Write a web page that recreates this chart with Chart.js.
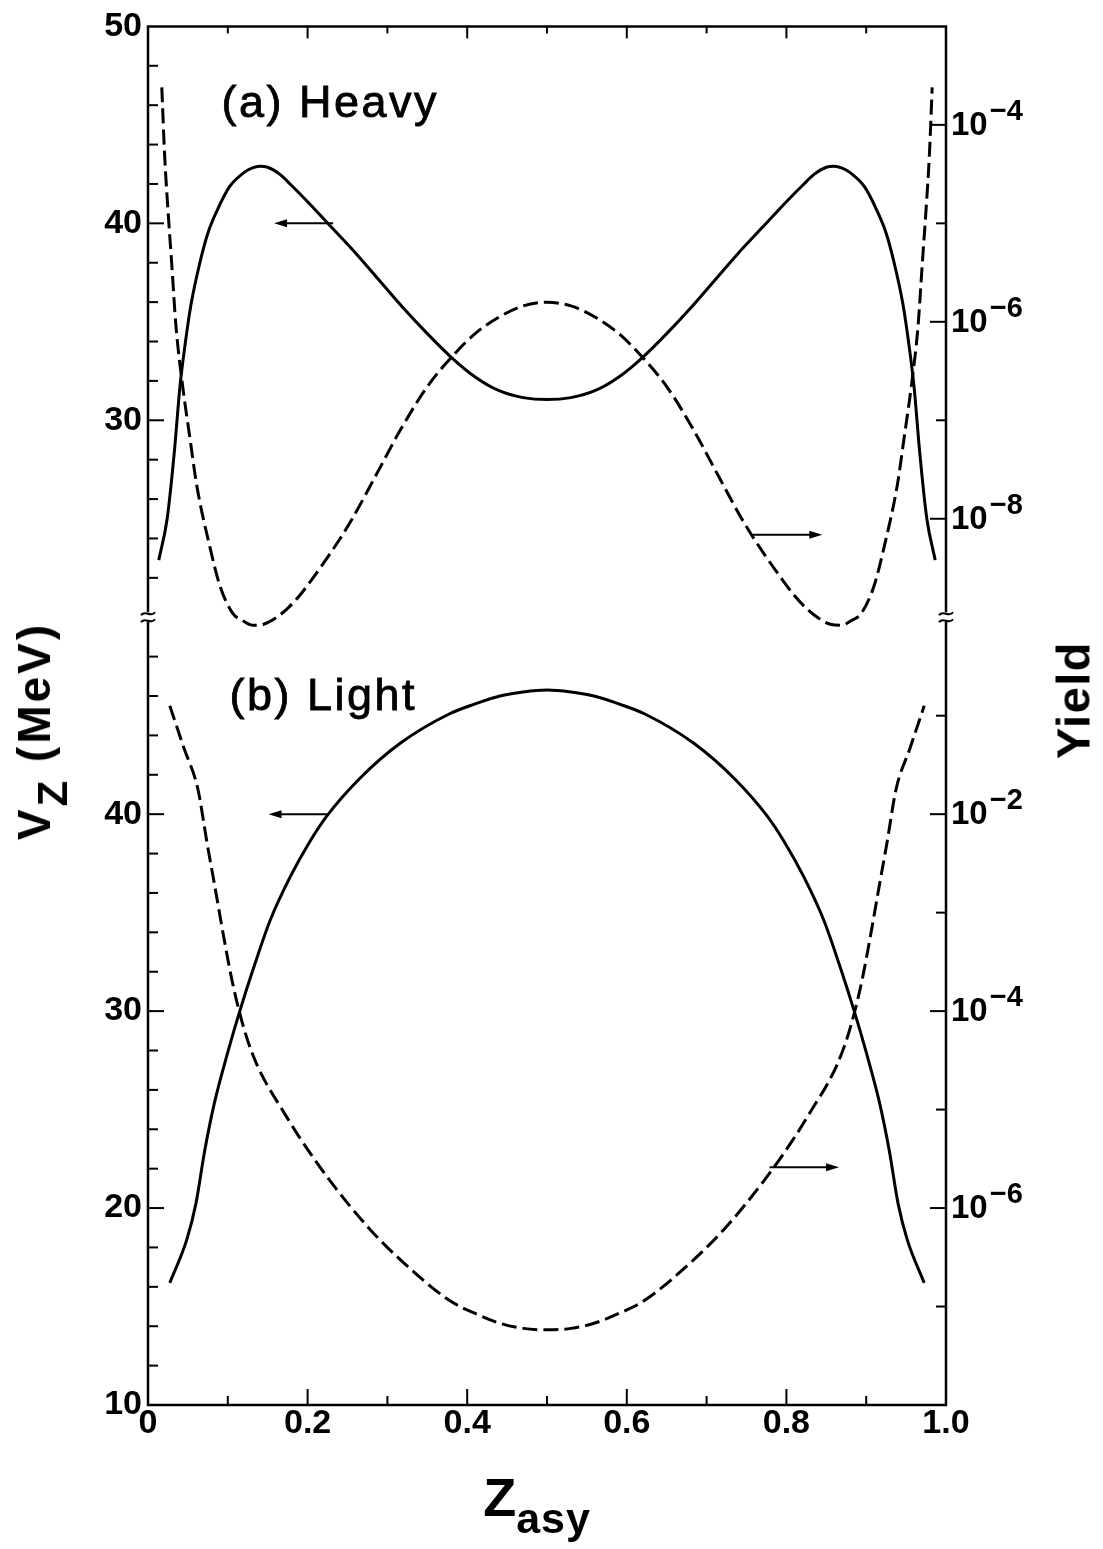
<!DOCTYPE html>
<html><head><meta charset="utf-8">
<script src="https://cdn.jsdelivr.net/npm/chart.js@4.4.1/dist/chart.umd.min.js"></script>
<style>
html,body{margin:0;padding:0;background:#fff;}
#wrap{position:relative;width:1103px;height:1549px;overflow:hidden;}
#c{position:absolute;left:0;top:0;}
.t{position:absolute;font-family:"Liberation Sans",Arial,sans-serif;color:#000;white-space:nowrap;line-height:1;}
</style></head><body>
<div id="wrap">
<canvas id="c" width="1103" height="1549"></canvas>
<div class="t" id="ylab" style="left:34px;top:731px;font-size:46px;font-weight:bold;letter-spacing:3px;transform:translate(-50%,-50%) rotate(-90deg);">V<span style="font-size:42px;position:relative;top:17px;">Z</span> (MeV)</div>
<div class="t" id="y2lab" style="left:1073px;top:700px;font-size:47px;font-weight:bold;letter-spacing:1.5px;transform:translate(-50%,-50%) rotate(-90deg);">Yield</div>
<div class="t" id="xlab" style="left:537px;top:1497px;font-size:54px;font-weight:bold;transform:translate(-50%,-50%);">Z<span style="font-size:43px;position:relative;top:17px;letter-spacing:1px;">asy</span></div>
</div>
<script>
// ---------------- data ----------------
// (a) Heavy : V_Z (MeV) vs Z_asy
const heavyVzX = [0.0135,0.024,0.033,0.040,0.047,0.054,0.065,0.075,0.086,0.102,0.121,0.130,0.140,0.150,0.165,0.178,0.200,0.230,0.260,0.290,0.320,0.350,0.380,0.410,0.440,0.470,0.500,
                  0.530,0.560,0.590,0.620,0.650,0.680,0.710,0.740,0.770,0.800,0.822,0.835,0.850,0.860,0.870,0.879,0.898,0.914,0.925,0.935,0.946,0.953,0.960,0.967,0.976,0.9865];
const heavyVzY = [22.9,25.0,28.4,31.7,34.0,35.9,38.0,39.5,40.6,41.85,42.6,42.8,42.9,42.85,42.5,42.0,41.1,39.8,38.5,37.1,35.7,34.4,33.2,32.2,31.5,31.15,31.05,
                  31.15,31.5,32.2,33.2,34.4,35.7,37.1,38.5,39.8,41.1,42.0,42.5,42.85,42.9,42.8,42.6,41.85,40.6,39.5,38.0,35.9,34.0,31.7,28.4,25.0,22.9];
// (a) Heavy : yield vs Z_asy
const heavyYieldX = [0.0173,0.0209,0.0247,0.030,0.035,0.0435,0.0522,0.061,0.077,0.090,0.106,0.118,0.131,0.145,0.160,0.175,0.190,0.205,0.228,0.253,0.285,0.316,0.350,0.385,0.410,0.440,0.470,0.500,
                     0.530,0.560,0.590,0.615,0.650,0.684,0.715,0.747,0.772,0.795,0.810,0.825,0.840,0.855,0.869,0.882,0.894,0.910,0.923,0.939,0.9478,0.9565,0.965,0.970,0.9753,0.9791,0.9827];
const heavyYieldY = [2.4e-4,4.8e-5,1.5e-5,3.6e-6,9.1e-7,2.2e-7,6.9e-8,2.2e-8,5.4e-9,2.1e-9,1.1e-9,9.3e-10,8.3e-10,8.5e-10,9.8e-10,1.23e-9,1.66e-9,2.4e-9,4.4e-9,9.1e-9,2.7e-8,7.9e-8,2.2e-7,4.8e-7,7.6e-7,1.12e-6,1.45e-6,1.58e-6,
                     1.45e-6,1.12e-6,7.6e-7,4.8e-7,2.2e-7,7.9e-8,2.7e-8,9.1e-9,4.4e-9,2.4e-9,1.66e-9,1.23e-9,9.8e-10,8.5e-10,8.3e-10,9.3e-10,1.1e-9,2.1e-9,5.4e-9,2.2e-8,6.9e-8,2.2e-7,9.1e-7,3.6e-6,1.5e-5,4.8e-5,2.4e-4];
// (b) Light : V_Z (MeV) vs Z_asy
const lightVzX = [0.0273,0.0486,0.0599,0.0710,0.0836,0.0999,0.115,0.134,0.153,0.178,0.2027,0.224,0.265,0.316,0.378,0.410,0.441,0.470,0.500,
                  0.530,0.559,0.590,0.622,0.684,0.735,0.776,0.7973,0.822,0.847,0.866,0.885,0.9001,0.9164,0.929,0.9401,0.9514,0.9727];
const lightVzY = [16.2,18.4,20.2,22.9,25.4,27.9,30.0,32.4,34.6,36.8,38.6,39.9,41.8,43.6,45.1,45.6,46.0,46.2,46.3,
                  46.2,46.0,45.6,45.1,43.6,41.8,39.9,38.6,36.8,34.6,32.4,30.0,27.9,25.4,22.9,20.2,18.4,16.2];
// (b) Light : yield vs Z_asy
const lightYieldX = [0.0273,0.045,0.0625,0.074,0.084,0.095,0.105,0.115,0.125,0.137,0.150,0.165,0.190,0.228,0.278,0.316,0.378,0.410,0.440,0.470,0.500,
                     0.530,0.560,0.590,0.622,0.684,0.722,0.772,0.810,0.835,0.850,0.863,0.875,0.885,0.895,0.905,0.916,0.926,0.9375,0.955,0.9727];
const lightYieldY = [1.26e-1,4.7e-2,1.8e-2,5.1e-3,1.8e-3,5.6e-4,2.1e-4,9.5e-5,5.0e-5,2.8e-5,1.74e-5,1.1e-5,5.2e-6,1.9e-6,6.1e-7,3.0e-7,1.15e-7,8.5e-8,6.8e-8,6.0e-8,5.8e-8,
                     6.0e-8,6.8e-8,8.5e-8,1.15e-7,3.0e-7,6.1e-7,1.9e-6,5.2e-6,1.1e-5,1.74e-5,2.8e-5,5.0e-5,9.5e-5,2.1e-4,5.6e-4,1.8e-3,5.1e-3,1.8e-2,4.7e-2,1.26e-1];

// ticks
const xTickVals = [0,0.2,0.4,0.6,0.8,1.0];
const xTickLabels = ['0','0.2','0.4','0.6','0.8','1.0'];
const leftTopTicks = [30,40,50];
const leftBottomTicks = [10,20,30,40];
const rightTopExps = [-4,-6,-8];
const rightBottomExps = [-2,-4,-6];

const panelLabels = [
  {text:'(a) Heavy', x:0.092, y:45.4, axis:'yTL'},
  {text:'(b) Light', x:0.102, y:45.3, axis:'yBL'}
];
// arrows: [x from, x to, y value, axis]
const arrows = [
  {x0:0.232, x1:0.158, y:40,     axis:'yTL'},
  {x0:0.758, x1:0.845, y:6.9e-9, axis:'yTR'},
  {x0:0.224, x1:0.151, y:40,     axis:'yBL'},
  {x0:0.779, x1:0.866, y:2.6e-6, axis:'yBR'}
];

const pts = (xs, ys) => xs.map((x,i)=>({x:x, y:ys[i]}));
const FONT = '"Liberation Sans", Arial, sans-serif';

const decor = {
  id:'decor',
  afterDraw(chart){
    const ctx = chart.ctx, ca = chart.chartArea, s = chart.scales;
    const L = ca.left, R = ca.right, T = ca.top, B = ca.bottom;
    const brk = s.yTL.bottom;
    ctx.save();
    ctx.strokeStyle = '#000'; ctx.fillStyle = '#000';
    // frame
    ctx.lineWidth = 2.5;
    ctx.beginPath();
    ctx.moveTo(L,T); ctx.lineTo(R,T); ctx.lineTo(R,B); ctx.lineTo(L,B); ctx.closePath();
    ctx.stroke();
    // ticks
    ctx.lineWidth = 2;
    const hline = (x, y, len) => { ctx.beginPath(); ctx.moveTo(x,y); ctx.lineTo(x+len,y); ctx.stroke(); };
    const vline = (x, y, len) => { ctx.beginPath(); ctx.moveTo(x,y); ctx.lineTo(x,y+len); ctx.stroke(); };
    for (let v = 22; v < 50; v += 2) hline(L, s.yTL.getPixelForValue(v), v % 10 === 0 ? 16 : 10);
    for (let v = 12; v < 50; v += 2) hline(L, s.yBL.getPixelForValue(v), v % 10 === 0 ? 16 : 10);
    for (let e = -8; e <= -4; e++) hline(R, s.yTR.getPixelForValue(Math.pow(10,e)), e % 2 === 0 ? -16 : -10);
    for (let e = -7; e <= -1; e++) hline(R, s.yBR.getPixelForValue(Math.pow(10,e)), e % 2 === 0 ? -16 : -10);
    for (let k = 1; k < 10; k++) {
      const x = s.x.getPixelForValue(k/10);
      const major = k % 2 === 0;
      vline(x, B, major ? -16 : -9);
      vline(x, T, major ? 12 : 7);
    }
    // right tick labels 10^n
    ctx.textBaseline = 'middle'; ctx.textAlign = 'left';
    const expLabel = (scale, e) => {
      const y = scale.getPixelForValue(Math.pow(10,e));
      ctx.font = 'bold 33px ' + FONT;
      ctx.fillText('10', R + 5, y + 1);
      const w = ctx.measureText('10').width;
      ctx.font = 'bold 29px ' + FONT;
      ctx.fillText('\u2212' + Math.abs(e), R + 7 + w, y - 13);
    };
    rightTopExps.forEach(e => expLabel(s.yTR, e));
    rightBottomExps.forEach(e => expLabel(s.yBR, e));
    // break marks
    const brkMark = (x) => {
      ctx.fillStyle = '#fff';
      ctx.fillRect(x - 3, brk - 5, 6, 9);
      ctx.lineWidth = 2;
      for (const dy of [-4, 3]) {
        ctx.beginPath();
        ctx.moveTo(x - 7, brk + dy + 2);
        ctx.bezierCurveTo(x - 3, brk + dy - 4, x + 3, brk + dy + 5, x + 7, brk + dy - 1);
        ctx.stroke();
      }
      ctx.fillStyle = '#000';
    };
    brkMark(L); brkMark(R);
    // arrows
    ctx.lineWidth = 2;
    arrows.forEach(a => {
      const sc = s[a.axis];
      const x0 = s.x.getPixelForValue(a.x0), x1 = s.x.getPixelForValue(a.x1), y = sc.getPixelForValue(a.y);
      const dir = Math.sign(x1 - x0);
      ctx.beginPath(); ctx.moveTo(x0, y); ctx.lineTo(x1 - dir*10, y); ctx.stroke();
      ctx.beginPath(); ctx.moveTo(x1, y); ctx.lineTo(x1 - dir*13, y - 4); ctx.lineTo(x1 - dir*13, y + 4); ctx.closePath(); ctx.fill();
    });
    // panel labels
    ctx.textBaseline = 'alphabetic'; ctx.textAlign = 'left';
    ctx.font = '45px ' + FONT;
    if ('letterSpacing' in ctx) ctx.letterSpacing = '2.5px';
    ctx.lineWidth = 0.8;
    panelLabels.forEach(p => {
      const px = s.x.getPixelForValue(p.x), py = s[p.axis].getPixelForValue(p.y);
      ctx.fillText(p.text, px, py);
      ctx.strokeText(p.text, px, py);
    });
    if ('letterSpacing' in ctx) ctx.letterSpacing = '0px';
    ctx.restore();
  }
};

const lineDs = (data, axis, dashed) => ({
  data: data, yAxisID: axis, xAxisID: 'x',
  borderColor: '#000', borderWidth: 3, borderDash: dashed ? [15,6] : [],
  pointRadius: 0, fill: false, cubicInterpolationMode: 'monotone', clip: false
});

const fixedTicks = (vals) => (scale) => { scale.ticks = vals.map(v => ({value: v})); };
const tickFont = {family: FONT, size: 34, weight: 'bold'};

new Chart(document.getElementById('c'), {
  type: 'line',
  data: { datasets: [
    lineDs(pts(heavyVzX, heavyVzY), 'yTL', false),
    lineDs(pts(heavyYieldX, heavyYieldY), 'yTR', true),
    lineDs(pts(lightVzX, lightVzY), 'yBL', false),
    lineDs(pts(lightYieldX, lightYieldY), 'yBR', true)
  ]},
  options: {
    responsive: false, animation: false, devicePixelRatio: 1,
    layout: { padding: {top: 19, left: 0, right: 0, bottom: 0} },
    plugins: { legend: {display: false}, tooltip: {enabled: false} },
    scales: {
      x: { type: 'linear', position: 'bottom', min: 0, max: 1,
           afterBuildTicks: fixedTicks(xTickVals),
           ticks: { padding: -2, color: '#000', font: tickFont, maxRotation: 0, autoSkip: false,
                    callback: (v) => xTickLabels[xTickVals.findIndex(t => Math.abs(t - v) < 1e-9)] },
           grid: {display: false, drawTicks: false}, border: {display: false},
           afterFit: (sc) => { sc.height = 144; } },
      yTL: { type: 'linear', position: 'left', stack: 'left', stackWeight: 30, weight: 1, min: 20, max: 50,
             afterBuildTicks: fixedTicks(leftTopTicks),
             ticks: { padding: 6, color: '#000', font: tickFont },
             grid: {display: false, drawTicks: false}, border: {display: false},
             afterFit: (sc) => { sc.width = 148; } },
      yBL: { type: 'linear', position: 'left', stack: 'left', stackWeight: 40, weight: 0, min: 10, max: 50,
             afterBuildTicks: fixedTicks(leftBottomTicks),
             ticks: { padding: 6, color: '#000', font: tickFont },
             grid: {display: false, drawTicks: false}, border: {display: false},
             afterFit: (sc) => { sc.width = 148; } },
      yTR: { type: 'logarithmic', position: 'right', stack: 'right', stackWeight: 30, weight: 0, min: 1e-9, max: 1e-3,
             ticks: { display: false }, grid: {display: false, drawTicks: false}, border: {display: false},
             afterFit: (sc) => { sc.width = 157; } },
      yBR: { type: 'logarithmic', position: 'right', stack: 'right', stackWeight: 40, weight: 1, min: 1e-8, max: 1,
             ticks: { display: false }, grid: {display: false, drawTicks: false}, border: {display: false},
             afterFit: (sc) => { sc.width = 157; } }
    }
  },
  plugins: [decor]
});
</script>
</body></html>
